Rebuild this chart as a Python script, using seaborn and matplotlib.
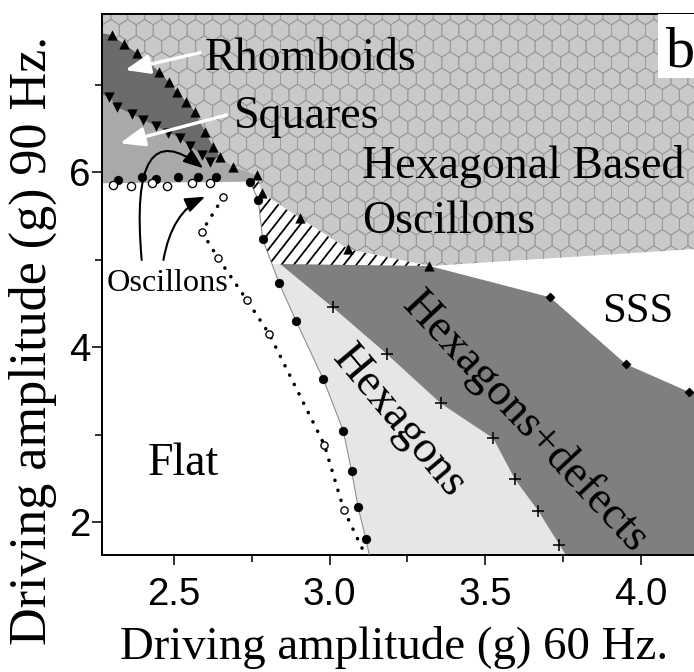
import numpy as np
import matplotlib
matplotlib.use("Agg")
import matplotlib.pyplot as plt
from matplotlib.patches import Polygon, Rectangle
from matplotlib.collections import PolyCollection, LineCollection
import seaborn as sns

# ---------------- phase-diagram data (driving amplitude, g) ----------------
# upper edge of rhomboids / lower edge of hexagonal oscillons (filled up-triangles)
tri_up_x = [2.300, 2.339, 2.382, 2.453, 2.483, 2.511, 2.539, 2.568, 2.600, 2.626,
            2.648, 2.691, 2.766, 2.782, 2.905, 3.060, 3.321]
tri_up_y = [7.569, 7.466, 7.360, 7.150, 7.035, 6.921, 6.807, 6.693, 6.464, 6.293,
            6.178, 6.064, 5.969, 5.763, 5.474, 5.120, 4.929]
# rhomboids / squares edge (filled down-triangles)
tri_dn_x = [2.292, 2.316, 2.364, 2.399, 2.442, 2.482, 2.519, 2.551, 2.589, 2.616]
tri_dn_y = [6.864, 6.743, 6.666, 6.598, 6.529, 6.453, 6.389, 6.301, 6.198, 6.121]
# squares onset (filled circles) and oscillon decay (open circles), 90 Hz plateau
sq_on_x = [2.321, 2.396, 2.442, 2.514, 2.578, 2.635]
sq_on_y = [5.912, 5.943, 5.923, 5.943, 5.950, 5.943]
osc_off_x = [2.303, 2.361, 2.428, 2.477, 2.557, 2.616]
osc_off_y = [5.855, 5.847, 5.874, 5.847, 5.874, 5.881]
# oscillon decay line (open circles, dotted)
decay_x = [2.658, 2.589, 2.642, 2.734, 2.806, 2.983, 3.046]
decay_y = [5.714, 5.321, 5.017, 4.541, 4.152, 2.887, 2.141]
decay_end = (3.125, 1.55)
# hexagon onset (filled circles)
hex_on_x = [2.744, 2.771, 2.785, 2.838, 2.892, 2.980, 3.044, 3.071, 3.092, 3.117]
hex_on_y = [5.893, 5.683, 5.234, 4.731, 4.304, 3.634, 3.047, 2.581, 2.169, 1.806]
hex_on_end = (3.132, 1.55)
# onset of defects (+)
defect_x = [3.010, 3.184, 3.357, 3.526, 3.596, 3.671, 3.739]
defect_y = [4.457, 3.923, 3.360, 2.960, 2.491, 2.129, 1.741]
defect_end = (3.773, 1.55)
# onset of spatio-temporal chaos, SSS (diamonds)
sss_x = [3.709, 3.953, 4.156]
sss_y = [4.571, 3.806, 3.489]
sss_end = (4.25, 3.42)
# remaining region corners
hexosc_end = (4.25, 5.14)
rhomb_left_y = (7.59, 6.88)
squares_floor_y = 5.874
plateau_left = (2.815, 4.950)
plateau_right = (2.841, 4.952)

XLIM = (2.2695, 4.1715)
YLIM = (1.626, 7.809)

# ---------------- style ----------------
sns.set_style("ticks")
plt.rcParams["font.family"] = ["Liberation Serif", "DejaVu Serif"]
plt.rcParams["text.color"] = "black"
plt.rcParams["axes.labelcolor"] = "black"

DPI = 75
W_PX, H_PX = 694, 672
fig = plt.figure(figsize=(W_PX / DPI, H_PX / DPI), dpi=DPI)
AX_L, AX_R, AX_T, AX_B = 102.3, 694.0, 14.0, 555.0
AW, AH = AX_R - AX_L, AX_B - AX_T
ax = fig.add_axes([AX_L / W_PX, 1 - AX_B / H_PX, AW / W_PX, AH / H_PX])
ax.set_xlim(*XLIM)
ax.set_ylim(*YLIM)

x0, x1 = XLIM
ytop, ybot = 7.9, 1.55

# ---------------- region textures ----------------
def honeycomb(width_px, height_px, r=9.8, stretch=1.1):
    w = np.sqrt(3) * r
    dy = 1.5 * r * stretch
    ang = np.deg2rad(90 + 60 * np.arange(6))
    hx, hy = r * np.cos(ang), r * stretch * np.sin(ang)
    cells = []
    for i in range(int(height_px / dy) + 3):
        for j in range(-1, int(width_px / w) + 3):
            cx = j * w + (w / 2 if i % 2 else 0)
            cy = height_px - i * dy
            cells.append(np.column_stack([(cx + hx) / width_px, (cy + hy) / height_px]))
    return PolyCollection(cells, transform=ax.transAxes, facecolors="none",
                          edgecolors="#9a9a9a", linewidths=0.9, zorder=1.5)


def diagonal_hatch(width_px, height_px, spacing=12.5, angle=52):
    run = height_px / np.tan(np.deg2rad(angle))
    starts = np.arange(-run, width_px + spacing, spacing)
    segs = [[(c / width_px, 0.0), ((c + run) / width_px, 1.0)] for c in starts]
    return LineCollection(segs, transform=ax.transAxes, colors="black",
                          linewidths=1.7, zorder=2.2)


# ---------------- regions ----------------
# hexagonal based oscillons
hexosc_poly = ([(x0, ytop), (x0, rhomb_left_y[0])] + list(zip(tri_up_x, tri_up_y))
               + [hexosc_end, (hexosc_end[0], ytop)])
hexosc = Polygon(hexosc_poly, closed=True, facecolor="#c9c9c9", edgecolor="none", zorder=1)
ax.add_patch(hexosc)
comb = honeycomb(AW, AH)
ax.add_collection(comb)
comb.set_clip_path(hexosc)

# squares
squares_poly = ([(x0, rhomb_left_y[1])] + list(zip(tri_dn_x, tri_dn_y))
                + list(zip(tri_up_x[10:13], tri_up_y[10:13]))
                + [(hex_on_x[0], hex_on_y[0]), (x0, squares_floor_y)])
ax.add_patch(Polygon(squares_poly, closed=True, facecolor="#a9a9a9", edgecolor="none", zorder=2))

# rhomboids
rhomb_poly = ([(x0, rhomb_left_y[0])] + list(zip(tri_up_x[:11], tri_up_y[:11]))
              + list(zip(tri_dn_x[::-1], tri_dn_y[::-1])) + [(x0, rhomb_left_y[1])])
ax.add_patch(Polygon(rhomb_poly, closed=True, facecolor="#6b6b6b", edgecolor="none", zorder=2.1))

# hatched transition wedge
hatch_poly = ([(hex_on_x[0], hex_on_y[0])] + list(zip(tri_up_x[12:], tri_up_y[12:]))
              + [plateau_left, (hex_on_x[2], hex_on_y[2]), (hex_on_x[1], hex_on_y[1])])
wedge = Polygon(hatch_poly, closed=True, facecolor="white", edgecolor="none", zorder=2)
ax.add_patch(wedge)
stripes = diagonal_hatch(AW, AH)
ax.add_collection(stripes)
stripes.set_clip_path(wedge)

# hexagons
hexa_poly = ([plateau_left] + list(zip(hex_on_x[3:], hex_on_y[3:])) + [hex_on_end, defect_end]
             + list(zip(defect_x[::-1], defect_y[::-1])) + [plateau_right])
ax.add_patch(Polygon(hexa_poly, closed=True, facecolor="#e6e6e6", edgecolor="none", zorder=2))

# hexagons + defects
defects_poly = ([plateau_right, (tri_up_x[-1], tri_up_y[-1])] + list(zip(sss_x, sss_y))
                + [sss_end, (sss_end[0], ybot), defect_end]
                + list(zip(defect_x[::-1], defect_y[::-1])))
ax.add_patch(Polygon(defects_poly, closed=True, facecolor="#7f7f7f", edgecolor="none", zorder=2))

# ---------------- boundary lines ----------------
sns.lineplot(x=hex_on_x + [hex_on_end[0]], y=hex_on_y + [hex_on_end[1]], sort=False,
             estimator=None, color="#8a8a8a", linewidth=1.0, ax=ax, zorder=3)
sns.lineplot(x=decay_x + [decay_end[0]], y=decay_y + [decay_end[1]], sort=False,
             estimator=None, color="black", linewidth=3.4, linestyle=(0, (0.05, 2.9)),
             dash_capstyle="round", ax=ax, zorder=3)

# ---------------- markers ----------------
sns.scatterplot(x=tri_up_x, y=tri_up_y, marker="^", s=85, color="black",
                edgecolor="black", linewidth=0.4, ax=ax, zorder=5, legend=False)
sns.scatterplot(x=tri_dn_x, y=tri_dn_y, marker="v", s=85, color="black",
                edgecolor="black", linewidth=0.4, ax=ax, zorder=5, legend=False)
sns.scatterplot(x=sq_on_x, y=sq_on_y, marker="o", s=72, color="black",
                edgecolor="black", linewidth=0.4, ax=ax, zorder=5, legend=False)
sns.scatterplot(x=osc_off_x, y=osc_off_y, marker="o", s=62, color="white",
                edgecolor="black", linewidth=1.3, ax=ax, zorder=5, legend=False)
sns.scatterplot(x=decay_x, y=decay_y, marker="o", s=48, color="white",
                edgecolor="black", linewidth=1.3, ax=ax, zorder=5, legend=False)
sns.scatterplot(x=hex_on_x, y=hex_on_y, marker="o", s=72, color="black",
                edgecolor="black", linewidth=0.4, ax=ax, zorder=5, legend=False)
sns.scatterplot(x=defect_x, y=defect_y, marker="+", s=150, color="black",
                linewidth=1.5, ax=ax, zorder=5, legend=False)
sns.scatterplot(x=sss_x, y=sss_y, marker="D", s=40, color="black",
                edgecolor="black", linewidth=0.4, ax=ax, zorder=5, legend=False)

# ---------------- labels inside the diagram ----------------
big = 44
ax.text(2.600, 7.169, "Rhomboids", fontsize=big, ha="left", va="baseline", zorder=6)
ax.text(2.691, 6.503, "Squares", fontsize=big, ha="left", va="baseline", zorder=6)
ax.text(3.104, 5.931, "Hexagonal Based", fontsize=big, ha="left", va="baseline", zorder=6)
ax.text(3.104, 5.303, "Oscillons", fontsize=big, ha="left", va="baseline", zorder=6)
ax.text(3.875, 4.293, "SSS", fontsize=41, ha="left", va="baseline", zorder=6)
ax.text(2.416, 2.541, "Flat", fontsize=big, ha="left", va="baseline", zorder=6)
ax.text(2.284, 4.643, "Oscillons", fontsize=31, ha="left", va="baseline", zorder=6)
ax.text(3.223, 3.146, "Hexagons", fontsize=big, rotation=-50, rotation_mode="anchor",
        ha="center", va="center", zorder=6)
ax.text(3.628, 3.146, "Hexagons+defects", fontsize=big, rotation=-47, rotation_mode="anchor",
        ha="center", va="center", zorder=6)

ax.add_patch(Rectangle((0.939, 0.882), 0.1, 0.15, transform=ax.transAxes,
                       facecolor="white", edgecolor="none", zorder=6))
ax.text(4.080, 7.207, "b", fontsize=56, ha="left", va="baseline", zorder=7)

# arrows from the labels to their regions
white_arrow = dict(arrowstyle="-|>,head_length=0.9,head_width=0.35", color="white",
                   lw=3.2, mutation_scale=22, shrinkA=0, shrinkB=0)
ax.annotate("", xy=(2.3425, 7.169), xytext=(2.584, 7.367), arrowprops=white_arrow, zorder=6)
ax.annotate("", xy=(2.326, 6.331), xytext=(2.669, 6.655), arrowprops=white_arrow, zorder=6)

black_arrow = dict(arrowstyle="-|>,head_length=0.8,head_width=0.3", color="black",
                   lw=2.0, mutation_scale=20, shrinkA=0, shrinkB=0)
ax.annotate("", xy=(2.594, 6.046), xytext=(2.396, 4.998),
            arrowprops=dict(black_arrow, connectionstyle="angle3,angleA=95,angleB=-38"), zorder=6)
ax.annotate("", xy=(2.600, 5.721), xytext=(2.466, 4.998),
            arrowprops=dict(black_arrow, connectionstyle="angle3,angleA=80,angleB=25"), zorder=6)

# ---------------- axes ----------------
ax.set_xticks([2.5, 3.0, 3.5, 4.0])
ax.set_xticks([2.75, 3.25, 3.75], minor=True)
ax.set_yticks([2, 4, 6])
ax.set_yticks([3, 5, 7], minor=True)
ax.tick_params(which="both", direction="out", width=1.5, color="black",
               labelfontfamily="Liberation Sans", labelsize=37, labelcolor="black")
ax.tick_params(which="major", length=10)
ax.tick_params(which="minor", length=7)
ax.tick_params(axis="x", which="major", pad=11)
ax.tick_params(axis="y", which="major", pad=1)
for side in ("left", "bottom", "top"):
    ax.spines[side].set_linewidth(1.9)
    ax.spines[side].set_color("black")
ax.spines["right"].set_visible(False)

ax.set_xlabel("Driving amplitude (g) 60 Hz.", fontsize=45)
ax.set_ylabel("Driving amplitude (g) 90 Hz.", fontsize=50)
ax.xaxis.set_label_coords(0.493, -0.131)
ax.yaxis.set_label_coords(-0.0766, 0.397)

fig.savefig("out.png", dpi=DPI)
